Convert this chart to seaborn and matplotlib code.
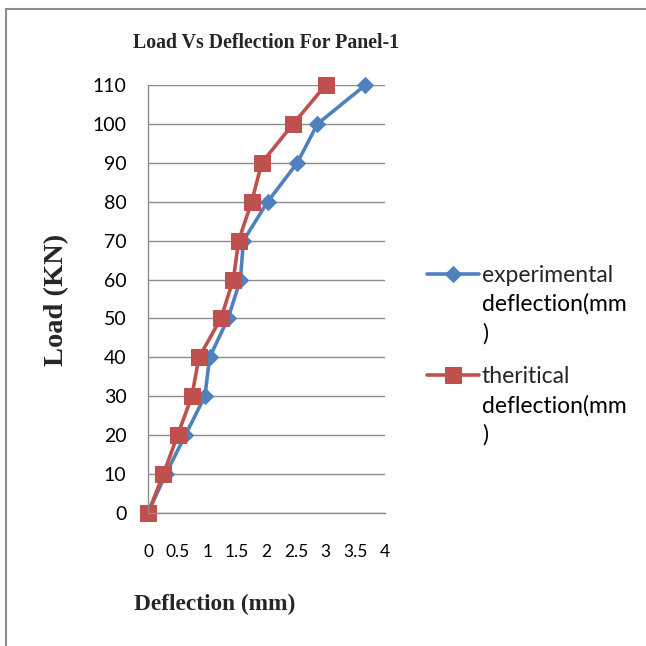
import matplotlib
matplotlib.use("Agg")
import matplotlib.pyplot as plt
import matplotlib.patches as mpatches
import seaborn as sns
import pandas as pd

load = [0, 10, 20, 30, 40, 50, 60, 70, 80, 90, 100, 110]
experimental = [0, 0.3, 0.63, 0.96, 1.04, 1.35, 1.56, 1.61, 2.02, 2.52, 2.86, 3.67]
theoretical = [0, 0.26, 0.5, 0.74, 0.86, 1.23, 1.44, 1.53, 1.75, 1.92, 2.45, 3.0]
x_ticks = [0, 0.5, 1, 1.5, 2, 2.5, 3, 3.5, 4]
x_tick_labels = ["0", "0.5", "1", "1.5", "2", "2.5", "3", "3.5", "4"]
y_ticks = list(range(0, 111, 10))
series_names = ["experimental\ndeflection(mm\n)", "theritical\ndeflection(mm\n)"]

sns.set_theme(style="white")
plt.rcParams['font.family'] = ['Lato', 'DejaVu Sans']

df_e = pd.DataFrame({"x": experimental, "y": load})
df_t = pd.DataFrame({"x": theoretical, "y": load})

W = 646
fig = plt.figure(figsize=(6.46, 6.46), dpi=100)
ax = fig.add_axes([148 / W, 1 - 513 / W, (385 - 148) / W, (513 - 85) / W])

blue = "#4F81BD"
red = "#C0504D"

first_lines = [n.split("\n", 1)[0] for n in series_names]
rest_lines = [n.split("\n", 1)[1] for n in series_names]

sns.lineplot(data=df_e, x="x", y="y", sort=False, estimator=None, ax=ax,
             color=blue, linewidth=2.6, marker="D", markersize=8.5,
             markeredgecolor=blue, label=first_lines[0])
sns.lineplot(data=df_t, x="x", y="y", sort=False, estimator=None, ax=ax,
             color=red, linewidth=2.6, marker="s", markersize=11,
             markeredgecolor=red, label=first_lines[1])

ax.set_xlim(0, 4)
ax.set_ylim(0, 110)
ax.set_xticks(x_ticks)
ax.set_xticklabels(x_tick_labels)
ax.set_yticks(y_ticks)
ax.yaxis.grid(True, color="#8C8C8C", linewidth=1.0)
ax.xaxis.grid(False)
for s in ["top", "right"]:
    ax.spines[s].set_visible(False)
for s in ["left", "bottom"]:
    ax.spines[s].set_color("#8C8C8C")
    ax.spines[s].set_linewidth(1.0)
ax.tick_params(axis="both", which="both", direction="out", color="#8C8C8C",
               labelcolor="black", width=1)
ax.tick_params(axis="y", length=5, pad=10.5, labelsize=14)
ax.tick_params(axis="x", length=5.5, pad=17, labelsize=12.5)
ax.set_xlabel("")
ax.set_ylabel("")
for l in ax.get_lines():
    l.set_clip_on(False)

fig.text(266 / W, 1 - 43 / W, "Load Vs Deflection For Panel-1", ha="center", va="center",
         fontsize=14.3, fontweight="bold", family="Liberation Serif")
fig.text(215 / W, 1 - 604 / W, "Deflection (mm)", ha="center", va="center",
         fontsize=16.8, fontweight="bold", family="Liberation Serif")
fig.text(57 / W, 1 - 300 / W, "Load (KN)", ha="center", va="center", rotation=90,
         fontsize=20.5, fontweight="bold", family="Liberation Serif")

leg_fs = 16.5
ax.get_legend().remove()
handles, labels = ax.get_legend_handles_labels()
leg = fig.legend(handles, labels, loc="upper left",
                 bbox_to_anchor=(427 / W, 1 - 265 / W), bbox_transform=fig.transFigure,
                 frameon=False, fontsize=leg_fs, handlelength=2.25,
                 handletextpad=0.15, labelspacing=3.5, borderpad=0,
                 borderaxespad=0)

fig.canvas.draw()
renderer = fig.canvas.get_renderer()
pitch = 28.5  # pixels between text lines
inv = fig.transFigure.inverted()
for t, rest in zip(leg.get_texts(), rest_lines):
    bb = t.get_window_extent(renderer)
    fx, fy = inv.transform((bb.x0, bb.y1 - pitch))
    fig.text(fx, fy, rest, ha="left", va="top", fontsize=leg_fs,
             linespacing=1.45, color="black")

fig.patches.append(mpatches.Rectangle((6 / W, -0.05), 1.2, 1 - 9 / W + 0.05,
                   transform=fig.transFigure, fill=False,
                   edgecolor="#8C8C8C", linewidth=1.5))

fig.savefig("out.png", dpi=100)
